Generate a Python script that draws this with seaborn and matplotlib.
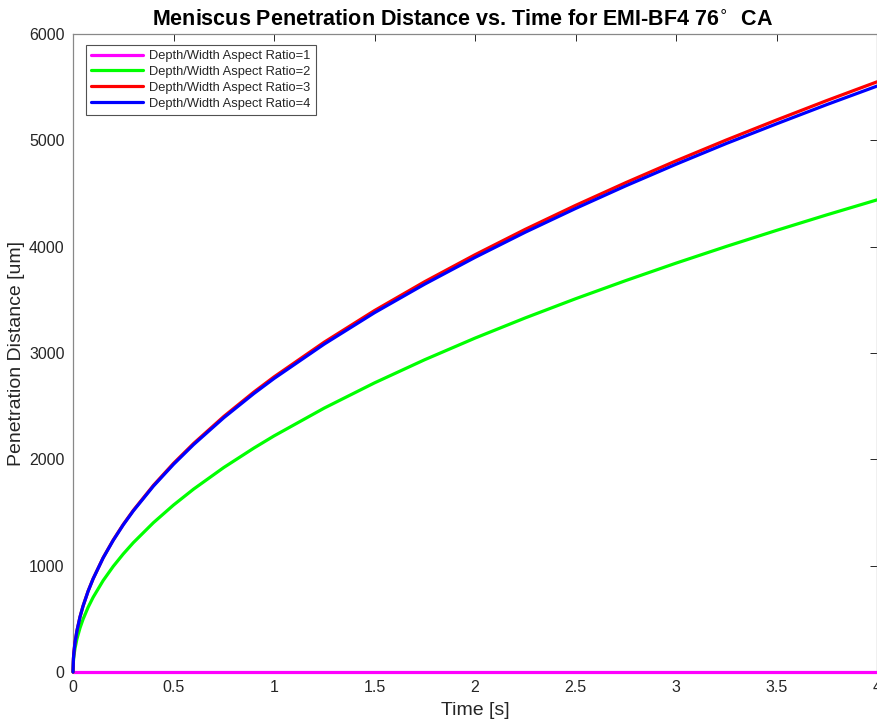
import matplotlib
matplotlib.use("Agg")
import matplotlib.pyplot as plt
import seaborn as sns
import pandas as pd

# Time samples [s]
time_s = [0, 0.002, 0.005, 0.01, 0.02, 0.035, 0.05, 0.075, 0.1, 0.15, 0.2,
          0.25, 0.3, 0.4, 0.5, 0.6, 0.75, 0.9, 1.0, 1.25, 1.5, 1.75, 2.0,
          2.25, 2.5, 2.75, 3.0, 3.25, 3.5, 3.75, 4.0]

# Penetration distance [um] for each depth/width aspect ratio
ratio1 = [0] * len(time_s)
ratio2 = [0, 99, 157, 222, 314, 415, 496, 608, 702, 860, 993, 1110, 1216,
          1404, 1570, 1720, 1923, 2106, 2220, 2482, 2719, 2937, 3140, 3330,
          3510, 3681, 3845, 4002, 4153, 4299, 4440]
ratio3 = [0, 124, 196, 278, 392, 519, 620, 760, 877, 1075, 1241, 1388, 1520,
          1755, 1962, 2149, 2403, 2633, 2775, 3102, 3399, 3671, 3924, 4163,
          4388, 4602, 4807, 5003, 5191, 5374, 5550]
ratio4 = [0, 124, 196, 278, 392, 519, 620, 759, 876, 1073, 1238, 1384, 1515,
          1748, 1953, 2139, 2391, 2619, 2760, 3084, 3379, 3648, 3899, 4136,
          4359, 4572, 4775, 4970, 5155, 5336, 5510]

labels = ["Depth/Width Aspect Ratio=1", "Depth/Width Aspect Ratio=2",
          "Depth/Width Aspect Ratio=3", "Depth/Width Aspect Ratio=4"]
colors = ["#FF00FF", "#00FF00", "#FF0000", "#0000FF"]

xticks = [0, 0.5, 1, 1.5, 2, 2.5, 3, 3.5, 4]
xticklabels = ["0", "0.5", "1", "1.5", "2", "2.5", "3", "3.5", "4"]
yticks = [0, 1000, 2000, 3000, 4000, 5000, 6000]

frames = []
for lab, vals in zip(labels, [ratio1, ratio2, ratio3, ratio4]):
    frames.append(pd.DataFrame({"t": time_s, "d": vals, "series": lab}))
df = pd.concat(frames, ignore_index=True)

sns.set_style("white")
plt.rcParams["font.family"] = ["Liberation Sans", "DejaVu Sans"]

fig = plt.figure(figsize=(8.77, 7.25), dpi=100)
ax = fig.add_axes([73 / 877, 53 / 725, 804 / 877, 638 / 725])

sns.lineplot(data=df, x="t", y="d", hue="series", hue_order=labels,
             palette=colors, linewidth=2.3, ax=ax, clip_on=False, zorder=3)

ax.set_xlim(0, 4)
ax.set_ylim(0, 6000)
ax.set_xticks(xticks)
ax.set_xticklabels(xticklabels)
ax.set_yticks(yticks)
ax.tick_params(direction="in", length=5, width=0.7, color="#262626",
               labelsize=11.5, labelcolor="#262626", top=True, right=True,
               pad=6)
for s in ax.spines.values():
    s.set_color("#888888")
    s.set_linewidth(0.9)
    s.set_zorder(1)

ax.set_xlabel("Time [s]", fontsize=14, color="#262626", labelpad=5)
ax.set_ylabel("Penetration Distance [um]", fontsize=14, color="#262626",
              labelpad=3)
ax.set_title("Meniscus Penetration Distance vs. Time for EMI-BF4 76$^{\\circ}$  CA",
             fontsize=15.5, fontweight="bold", color="black", pad=6,
             x=0.485)

leg = ax.legend(loc="upper left", bbox_to_anchor=(0.016, 0.983), fontsize=9.3,
                frameon=True, fancybox=False, handlelength=4.0,
                borderpad=0.4, labelspacing=0.3, handletextpad=0.5,
                borderaxespad=0)
leg.get_frame().set_edgecolor("#262626")
leg.get_frame().set_linewidth(0.8)
for line in leg.get_lines():
    line.set_linewidth(2.3)

fig.savefig("out.png", dpi=100)
